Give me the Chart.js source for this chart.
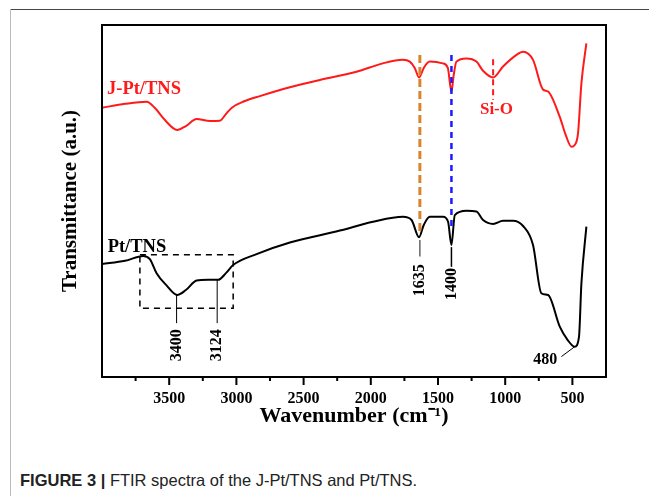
<!DOCTYPE html>
<html>
<head>
<meta charset="utf-8">
<script src="https://cdn.jsdelivr.net/npm/chart.js@4/dist/chart.umd.min.js"></script>
<style>
  body { margin: 0; background: #fff; }
  #wrap { position: relative; width: 649px; height: 496px; overflow: hidden; }
  #topline { position: absolute; left: 10px; top: 9px; width: 639px; height: 1px; background: #444; }
  #leftline { position: absolute; left: 10px; top: 9px; width: 1px; height: 487px; background: #bbb; }
  #chart { position: absolute; left: 0; top: 0; }
  #caption { position: absolute; left: 20px; top: 471px; font: 16.5px "Liberation Sans", Arial, sans-serif; color: #222; white-space: nowrap; }
</style>
</head>
<body>
<div id="wrap">
  <div id="topline"></div>
  <div id="leftline"></div>
  <canvas id="chart" width="649" height="450"></canvas>
  <div id="caption"><b>FIGURE 3 |</b> FTIR spectra of the J-Pt/TNS and Pt/TNS.</div>
</div>
<script>
// J-Pt/TNS (red) spectrum
const redWavenumber = [4000, 3829, 3668, 3606, 3532, 3441, 3376, 3296, 3197, 3123, 3078, 3034, 2937, 2825, 2602, 2379, 2106, 1911, 1762, 1710, 1673, 1641, 1606, 1561, 1465, 1427, 1400, 1383, 1363, 1288, 1214, 1165, 1090, 1016, 916, 867, 793, 719, 681, 594, 550, 507, 483, 458, 433, 396];
const redTransmittance = [76.5, 77.6, 78.2, 76.4, 73.0, 70.2, 71.3, 73.3, 72.7, 72.8, 74.7, 76.5, 78.4, 79.8, 82.3, 84.4, 86.7, 89.1, 90.1, 89.6, 87.8, 85.1, 87.8, 89.6, 89.1, 87.8, 81.1, 85.8, 89.6, 90.5, 89.6, 87.0, 85.1, 88.2, 91.5, 92.4, 90.1, 81.7, 81.1, 73.9, 68.8, 65.4, 65.9, 69.3, 83.4, 94.8];

// Pt/TNS (black) spectrum
const blackWavenumber = [4000, 3829, 3693, 3644, 3594, 3517, 3441, 3376, 3296, 3212, 3136, 3078, 3024, 2850, 2602, 2230, 1983, 1760, 1697, 1641, 1606, 1561, 1462, 1425, 1400, 1375, 1288, 1214, 1165, 1090, 1016, 942, 867, 793, 731, 681, 594, 535, 483, 451, 433, 396];
const blackTransmittance = [32.1, 33.0, 34.4, 33.5, 29.5, 25.9, 23.3, 24.7, 27.4, 27.6, 27.6, 29.5, 31.8, 34.9, 38.2, 41.6, 44.1, 45.5, 44.6, 39.7, 43.2, 45.5, 45.5, 44.1, 37.5, 46.0, 47.2, 47.0, 44.6, 43.5, 44.4, 44.4, 42.9, 37.5, 23.8, 23.3, 14.3, 10.5, 8.6, 11.4, 26.6, 42.7];

const xTickLabels = [3500, 3000, 2500, 2000, 1500, 1000, 500];
const xMinorTicks = [3750, 3250, 2750, 2250, 1750, 1250, 750];

const serif = '"Liberation Serif", "Times New Roman", serif';

function toPoints(xs, ys) {
  return xs.map((x, i) => ({ x: x, y: ys[i] }));
}

const decorations = {
  id: "decorations",
  afterDatasetsDraw(chart) {
    const ctx = chart.ctx;
    const xs = chart.scales.x;
    const ys = chart.scales.y;
    const X = (v) => xs.getPixelForValue(v);
    const Y = (v) => ys.getPixelForValue(v);
    const area = chart.chartArea;

    function vline(x, y1, y2, color, width, dash) {
      ctx.save();
      ctx.strokeStyle = color;
      ctx.lineWidth = width;
      ctx.setLineDash(dash || []);
      ctx.beginPath();
      ctx.moveTo(X(x), Y(y1));
      ctx.lineTo(X(x), Y(y2));
      ctx.stroke();
      ctx.restore();
    }
    function text(str, x, y, color, size, rotate, align) {
      ctx.save();
      ctx.fillStyle = color;
      ctx.font = "bold " + size + "px " + serif;
      ctx.textAlign = align || "center";
      ctx.textBaseline = "middle";
      ctx.translate(X(x), Y(y));
      if (rotate) ctx.rotate(-Math.PI / 2);
      ctx.fillText(str, 0, 0);
      ctx.restore();
    }

    // dashed marker lines
    vline(1635, 91.5, 40.5, "#d9852c", 3, [8, 4]);
    vline(1400, 91.5, 41.5, "#1b1bff", 2.5, [6, 5]);
    vline(1090, 90.3, 78.7, "#ff1a1a", 2, [6, 4]);

    // peak label leaders
    vline(3445, 23.3, 15.3, "#000", 1);
    vline(3143, 27.6, 15.3, "#000", 1);
    vline(1635, 38.9, 34.2, "#666", 1.5);
    vline(1400, 36.9, 31.3, "#000", 1.5);
    ctx.save();
    ctx.strokeStyle = "#000";
    ctx.lineWidth = 1;
    ctx.beginPath();
    ctx.moveTo(X(483), Y(8.6));
    ctx.lineTo(X(582), Y(5.8));
    ctx.stroke();
    ctx.restore();

    // dashed box around the OH region
    ctx.save();
    ctx.strokeStyle = "#000";
    ctx.lineWidth = 1.5;
    ctx.setLineDash([6, 5]);
    ctx.strokeRect(X(3718), Y(34.7), X(3024) - X(3718), Y(19.5) - Y(34.7));
    ctx.restore();

    text("3400", 3445, 9.0, "#000", 16, true);
    text("3124", 3143, 9.0, "#000", 16, true);
    text("1635", 1635, 27.5, "#000", 16, true);
    text("1400", 1400, 26.4, "#000", 16, true);
    text("480", 702, 4.8, "#000", 16, false);
    text("Si-O", 1065, 75.9, "#ff1a1a", 17, false);
    text("J-Pt/TNS", 3963, 81.7, "#ff1a1a", 18.5, false, "left");
    text("Pt/TNS", 3958, 37.0, "#000", 18.5, false, "left");

    // axis ticks (outward)
    ctx.save();
    ctx.strokeStyle = "#000";
    ctx.lineWidth = 2;
    ctx.beginPath();
    xTickLabels.forEach((v) => { ctx.moveTo(X(v), area.bottom); ctx.lineTo(X(v), area.bottom + 8); });
    xMinorTicks.forEach((v) => { ctx.moveTo(X(v), area.bottom); ctx.lineTo(X(v), area.bottom + 4); });
    ctx.stroke();
    // frame
    ctx.strokeRect(area.left, area.top, area.right - area.left, area.bottom - area.top);
    ctx.restore();
  },
};

new Chart(document.getElementById("chart"), {
  type: "scatter",
  data: {
    datasets: [
      {
        label: "J-Pt/TNS",
        data: toPoints(redWavenumber, redTransmittance),
        showLine: true,
        borderColor: "#ff1a1a",
        borderWidth: 2,
        pointRadius: 0,
        cubicInterpolationMode: "monotone",
      },
      {
        label: "Pt/TNS",
        data: toPoints(blackWavenumber, blackTransmittance),
        showLine: true,
        borderColor: "#000",
        borderWidth: 2,
        pointRadius: 0,
        cubicInterpolationMode: "monotone",
      },
    ],
  },
  options: {
    responsive: false,
    animation: false,
    layout: { padding: { top: 25, right: 43, left: 0, bottom: 0 } },
    plugins: { legend: { display: false }, tooltip: { enabled: false } },
    scales: {
      x: {
        type: "linear",
        reverse: true,
        min: 250,
        max: 4000,
        afterBuildTicks: (s) => { s.ticks = xTickLabels.map((v) => ({ value: v })); },
        afterFit: (s) => { s.height = 73; },
        grid: { display: false, drawTicks: false },
        border: { display: false },
        ticks: {
          color: "#000",
          padding: 12,
          maxRotation: 0,
          autoSkip: false,
          callback: (v) => String(v),
          font: { family: serif, size: 16, weight: "bold" },
        },
        title: {
          display: true,
          text: "Wavenumber (cm\u207B\u00B9)",
          color: "#000",
          font: { family: serif, size: 22, weight: "bold" },
          padding: { top: 0, bottom: 20 },
        },
      },
      y: {
        min: 0,
        max: 100,
        afterFit: (s) => { s.width = 102; },
        grid: { display: false, drawTicks: false },
        border: { display: false },
        ticks: { display: false },
        title: {
          display: true,
          text: "Transmittance (a.u.)",
          color: "#000",
          font: { family: serif, size: 21, weight: "bold" },
          padding: { top: 58, bottom: 0 },
        },
      },
    },
  },
  plugins: [decorations],
});
</script>
</body>
</html>
